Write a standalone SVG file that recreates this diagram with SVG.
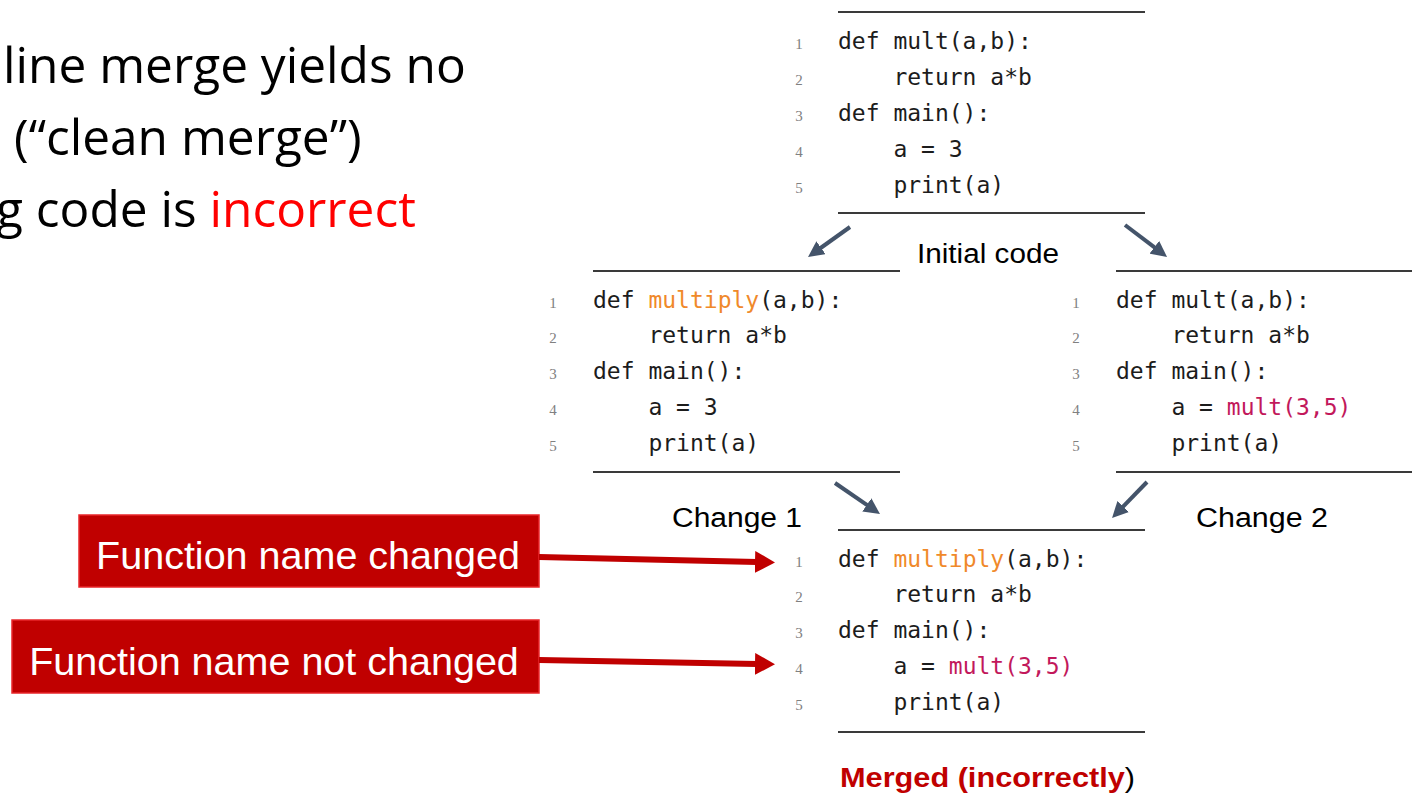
<svg xmlns="http://www.w3.org/2000/svg" width="1412" height="795" viewBox="0 0 1412 795">
  <style>
    .bullet { font-family: "Open Sans", "Noto Sans", sans-serif; font-size: 49.6px; fill: #000; }
    .code { font-family: "DejaVu Sans Mono", "Liberation Mono", monospace; font-size: 23px; fill: #1c1c1c; white-space: pre; }
    .ln { font-family: "Liberation Serif", "DejaVu Serif", serif; font-size: 15px; fill: #808080; text-anchor: middle; }
    .rule { stroke: #3a3a3a; stroke-width: 2; }
    .orange { fill: #F0892A; }
    .crimson { fill: #C2185B; }
    .label { font-family: "Liberation Sans", Arial, sans-serif; font-size: 27px; fill: #000; }
    .boxtext { font-family: "Liberation Sans", Arial, sans-serif; font-size: 39.5px; fill: #fff; text-anchor: middle; }
    .redbox { fill: #C00000; stroke: #E8262A; stroke-width: 1.5; }
    .flow { stroke: #44546A; stroke-width: 4; fill: none; }
    .callout { stroke: #C00000; stroke-width: 6; fill: none; }
  </style>
  <defs>
    <marker id="headDark" markerUnits="userSpaceOnUse" markerWidth="16" markerHeight="16" refX="4" refY="8" orient="auto" viewBox="0 0 16 16">
      <path d="M0,0 L16,8 L0,16 z" fill="#44546A"/>
    </marker>
    <marker id="headRed" markerUnits="userSpaceOnUse" markerWidth="20" markerHeight="22" refX="2" refY="11" orient="auto" viewBox="0 0 20 22">
      <path d="M0,0 L20,11 L0,22 z" fill="#C00000"/>
    </marker>
  </defs>

  <rect width="1412" height="795" fill="#fff"/>

  <!-- bullet text, running off the left edge -->
  <g id="bullets">
    <text class="bullet" x="3" y="83">line merge yields no</text>
    <text class="bullet" x="14" y="155">(“clean merge”)</text>
    <text class="bullet" x="-4" y="227">g code is <tspan fill="#FF0000">incorrect</tspan></text>
  </g>

  <!-- initial code -->
  <g id="initial">
    <line class="rule" x1="838" y1="12" x2="1145" y2="12"/>
    <line class="rule" x1="838" y1="213" x2="1145" y2="213"/>
    <text class="ln" x="799" y="49">1</text>
    <text class="ln" x="799" y="85">2</text>
    <text class="ln" x="799" y="121">3</text>
    <text class="ln" x="799" y="157">4</text>
    <text class="ln" x="799" y="193">5</text>
    <text class="code" x="838" y="49">def mult(a,b):</text>
    <text class="code" x="838" y="85">    return a*b</text>
    <text class="code" x="838" y="121">def main():</text>
    <text class="code" x="838" y="157">    a = 3</text>
    <text class="code" x="838" y="193">    print(a)</text>
    <text class="label" x="988" y="263" text-anchor="middle" textLength="142" lengthAdjust="spacingAndGlyphs">Initial code</text>
  </g>

  <!-- change 1 -->
  <g id="change1">
    <line class="rule" x1="593" y1="271" x2="900" y2="271"/>
    <line class="rule" x1="593" y1="472" x2="900" y2="472"/>
    <text class="ln" x="553" y="308">1</text>
    <text class="ln" x="553" y="343">2</text>
    <text class="ln" x="553" y="379">3</text>
    <text class="ln" x="553" y="415">4</text>
    <text class="ln" x="553" y="451">5</text>
    <text class="code" x="593" y="308">def <tspan class="orange">multiply</tspan>(a,b):</text>
    <text class="code" x="593" y="343">    return a*b</text>
    <text class="code" x="593" y="379">def main():</text>
    <text class="code" x="593" y="415">    a = 3</text>
    <text class="code" x="593" y="451">    print(a)</text>
    <text class="label" x="672" y="527" textLength="130" lengthAdjust="spacingAndGlyphs">Change 1</text>
  </g>

  <!-- change 2 -->
  <g id="change2">
    <line class="rule" x1="1116" y1="271" x2="1412" y2="271"/>
    <line class="rule" x1="1116" y1="472" x2="1412" y2="472"/>
    <text class="ln" x="1076" y="308">1</text>
    <text class="ln" x="1076" y="343">2</text>
    <text class="ln" x="1076" y="379">3</text>
    <text class="ln" x="1076" y="415">4</text>
    <text class="ln" x="1076" y="451">5</text>
    <text class="code" x="1116" y="308">def mult(a,b):</text>
    <text class="code" x="1116" y="343">    return a*b</text>
    <text class="code" x="1116" y="379">def main():</text>
    <text class="code" x="1116" y="415">    a = <tspan class="crimson">mult(3,5)</tspan></text>
    <text class="code" x="1116" y="451">    print(a)</text>
    <text class="label" x="1196" y="527" textLength="132" lengthAdjust="spacingAndGlyphs">Change 2</text>
  </g>

  <!-- merged result -->
  <g id="merged">
    <line class="rule" x1="838" y1="530" x2="1145" y2="530"/>
    <line class="rule" x1="838" y1="732" x2="1145" y2="732"/>
    <text class="ln" x="799" y="567">1</text>
    <text class="ln" x="799" y="602">2</text>
    <text class="ln" x="799" y="638">3</text>
    <text class="ln" x="799" y="674">4</text>
    <text class="ln" x="799" y="710">5</text>
    <text class="code" x="838" y="567">def <tspan class="orange">multiply</tspan>(a,b):</text>
    <text class="code" x="838" y="602">    return a*b</text>
    <text class="code" x="838" y="638">def main():</text>
    <text class="code" x="838" y="674">    a = <tspan class="crimson">mult(3,5)</tspan></text>
    <text class="code" x="838" y="710">    print(a)</text>
    <text class="label" x="840" y="787" textLength="295" lengthAdjust="spacingAndGlyphs"><tspan fill="#C00000" font-weight="bold">Merged (incorrectly</tspan>)</text>
  </g>

  <!-- callout boxes -->
  <g id="callout-changed">
    <rect class="redbox" x="79" y="515" width="460" height="72"/>
    <text class="boxtext" x="308" y="569">Function name changed</text>
  </g>
  <g id="callout-not-changed">
    <rect class="redbox" x="12" y="620" width="527" height="73"/>
    <text class="boxtext" x="274" y="675">Function name not changed</text>
  </g>

  <!-- connectors -->
  <g id="connectors">
    <line class="flow" x1="850" y1="227" x2="817.8" y2="250" marker-end="url(#headDark)"/>
    <line class="flow" x1="1125" y1="225" x2="1157.5" y2="249.7" marker-end="url(#headDark)"/>
    <line class="flow" x1="835" y1="483" x2="870.1" y2="507.2" marker-end="url(#headDark)"/>
    <line class="flow" x1="1147" y1="482" x2="1120.4" y2="509.4" marker-end="url(#headDark)"/>
    <line class="callout" x1="539" y1="557" x2="757" y2="562" marker-end="url(#headRed)"/>
    <line class="callout" x1="539" y1="660" x2="757" y2="664" marker-end="url(#headRed)"/>
  </g>
</svg>
